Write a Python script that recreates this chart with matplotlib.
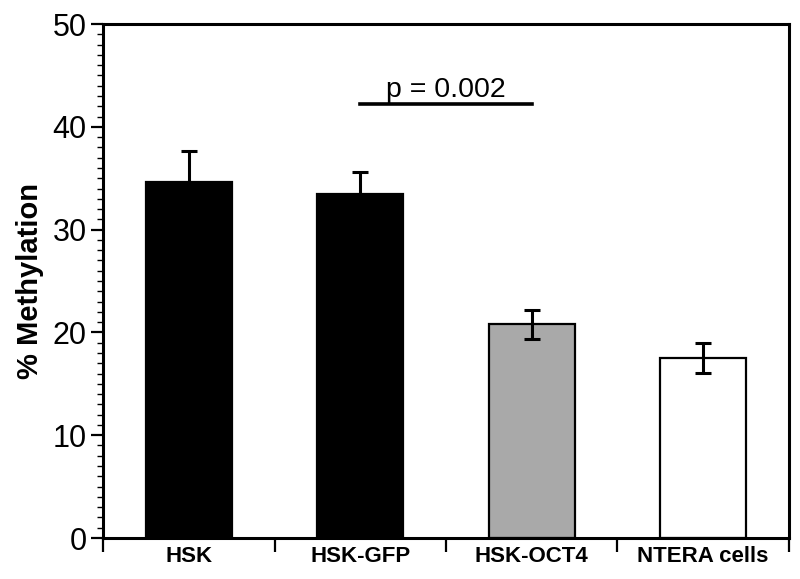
import matplotlib.pyplot as plt
import numpy as np

groups = ["HSK", "HSK-GFP", "HSK-OCT4", "NTERA cells"]
methylation = [34.6, 33.5, 20.8, 17.5]
errors = [3.0, 2.1, 1.4, 1.45]
colors = ["black", "black", "#a9a9a9", "white"]
p_text = "p = 0.002"
p_level = 42.2
p_pair = (1, 2)

plt.rcParams["font.family"] = ["Liberation Sans", "DejaVu Sans"]

fig = plt.figure(figsize=(8, 5.79), dpi=100)
ax = fig.add_axes([0.129, 0.0708, 0.857, 0.8877])

x = np.arange(len(groups))
ax.bar(x, methylation, width=0.5, color=colors, edgecolor="black", linewidth=1.6, zorder=2)
ax.errorbar(x, methylation, yerr=errors, fmt="none", ecolor="black",
            elinewidth=2.2, capsize=6, capthick=2.2, zorder=3)

# significance bar
ax.plot(p_pair, [p_level, p_level], color="black", lw=2.6)
ax.text(np.mean(p_pair), p_level + 0.15, p_text, ha="center", va="bottom", fontsize=20.5)

ax.set_xlim(-0.5, len(groups) - 0.5)
ax.set_ylim(0, 50)

for s in ax.spines.values():
    s.set_linewidth(2.2)

ax.set_xticks(x)
ax.set_xticklabels(groups, fontsize=16, fontweight="bold")
ax.tick_params(axis="x", which="major", length=0, pad=6)
ax.set_xticks(np.arange(len(groups) + 1) - 0.5, minor=True)
ax.tick_params(axis="x", which="minor", length=10, width=1.6, direction="out")

ax.set_yticks(np.arange(0, 51, 10))
ax.set_yticks(np.arange(0, 51, 1), minor=True)
ax.tick_params(axis="y", which="major", length=9, width=1.6, labelsize=22, pad=3)
ax.tick_params(axis="y", which="minor", length=4.5, width=1.0)

ax.set_ylabel("% Methylation", fontsize=21, fontweight="bold", labelpad=6)

fig.savefig("out.png", dpi=100)
